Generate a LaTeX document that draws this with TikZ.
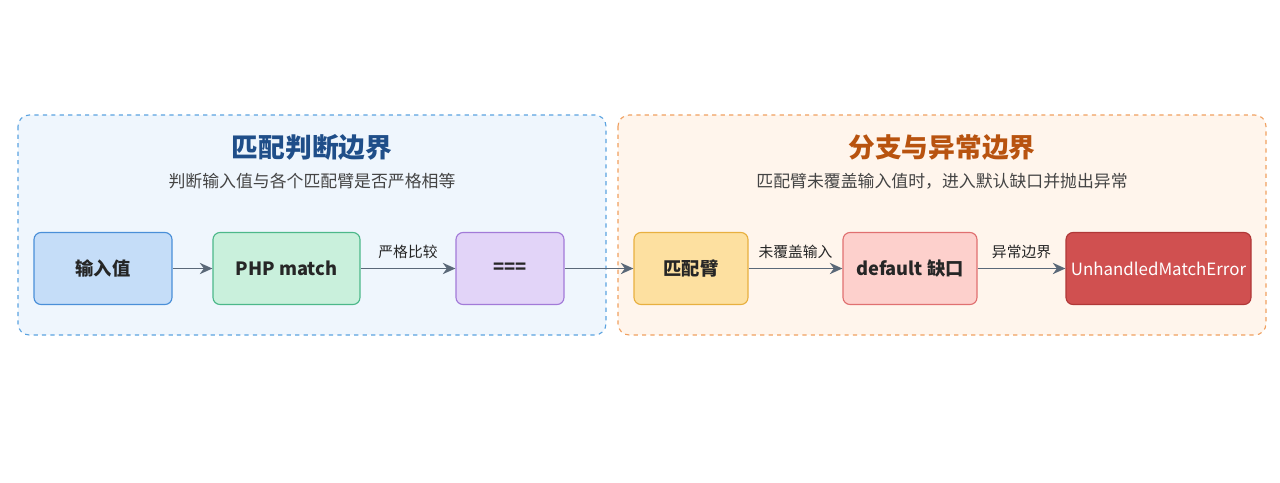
\documentclass[tikz,border=0pt]{standalone}
\usepackage{fontspec}
\setmainfont{Noto Sans CJK SC}
\usetikzlibrary{arrows.meta,positioning}
\definecolor{lbfill}{HTML}{EFF6FD}\definecolor{lbline}{HTML}{5BA3E0}\definecolor{lbtitle}{HTML}{1F4E89}
\definecolor{rbfill}{HTML}{FFF5EC}\definecolor{rbline}{HTML}{F0A060}\definecolor{rbtitle}{HTML}{B8530F}
\definecolor{arr}{HTML}{5A6878}\definecolor{sub}{HTML}{444444}
\definecolor{bluef}{HTML}{C5DDF8}\definecolor{bluel}{HTML}{4A8FD8}
\definecolor{greenf}{HTML}{C9F0DC}\definecolor{greenl}{HTML}{4CB88A}
\definecolor{purplef}{HTML}{E2D4F8}\definecolor{purplel}{HTML}{A27AD8}
\definecolor{yellowf}{HTML}{FDE0A0}\definecolor{yellowl}{HTML}{E8B040}
\definecolor{pinkf}{HTML}{FDD0CC}\definecolor{pinkl}{HTML}{E07070}
\definecolor{redf}{HTML}{D05050}\definecolor{redl}{HTML}{B03838}
\tikzset{
  box/.style={draw, rounded corners=5pt, line width=0.8pt, minimum height=72*0.025cm, font=\fontsize{13}{15}\selectfont\bfseries, text=black!85},
  zone/.style={draw, dashed, rounded corners=8pt, line width=0.8pt},
  flow/.style={-{Stealth[length=9pt,width=8pt]}, line width=1.3pt, arr},
  elab/.style={above, font=\fontsize{10.5}{12}\selectfont, text=black!85, yshift=3pt}
}
\begin{document}
\begin{tikzpicture}[x=0.025cm,y=-0.025cm]
\useasboundingbox (0,0) rectangle (1280,482);
% zones
\draw[zone, fill=lbfill, draw=lbline] (18,115) rectangle (606,335);
\draw[zone, fill=rbfill, draw=rbline] (618,115) rectangle (1266,335);
\node[font=\fontsize{19}{22}\selectfont\bfseries, text=lbtitle] (ltitle) at (312,147) {匹配判断边界};
\node[font=\fontsize{12}{14}\selectfont, text=sub] (lsub) at (312,181) {判断输入值与各个匹配臂是否严格相等};
\node[font=\fontsize{19}{22}\selectfont\bfseries, text=rbtitle] (rtitle) at (942,147) {分支与异常边界};
\node[font=\fontsize{12}{14}\selectfont, text=sub] (rsub) at (942,181) {匹配臂未覆盖输入值时，进入默认缺口并抛出异常};
% nodes
\node[box, fill=bluef, draw=bluel, minimum width=138*0.025cm] (input) at (103,268.5) {输入值};
\node[box, fill=greenf, draw=greenl, minimum width=147*0.025cm] (match) at (286.5,268.5) {PHP match};
\node[box, fill=purplef, draw=purplel, minimum width=108*0.025cm] (eq) at (510,268.5) {===};
\node[box, fill=yellowf, draw=yellowl, minimum width=114*0.025cm] (arm) at (691,268.5) {匹配臂};
\node[box, fill=pinkf, draw=pinkl, minimum width=134*0.025cm] (dflt) at (910,268.5) {default 缺口};
\node[box, fill=redf, draw=redl, text=white, minimum width=185*0.025cm, font=\fontsize{12}{14}\selectfont] (err) at (1158.5,268.5) {UnhandledMatchError};
% connectors
\draw[flow] (input) -- (match);
\draw[flow] (match) -- node[elab] {严格比较} (eq);
\draw[flow] (eq) -- (arm);
\draw[flow] (arm) -- node[elab] {未覆盖输入} (dflt);
\draw[flow] (dflt) -- node[elab] {异常边界} (err);
\end{tikzpicture}
\end{document}
